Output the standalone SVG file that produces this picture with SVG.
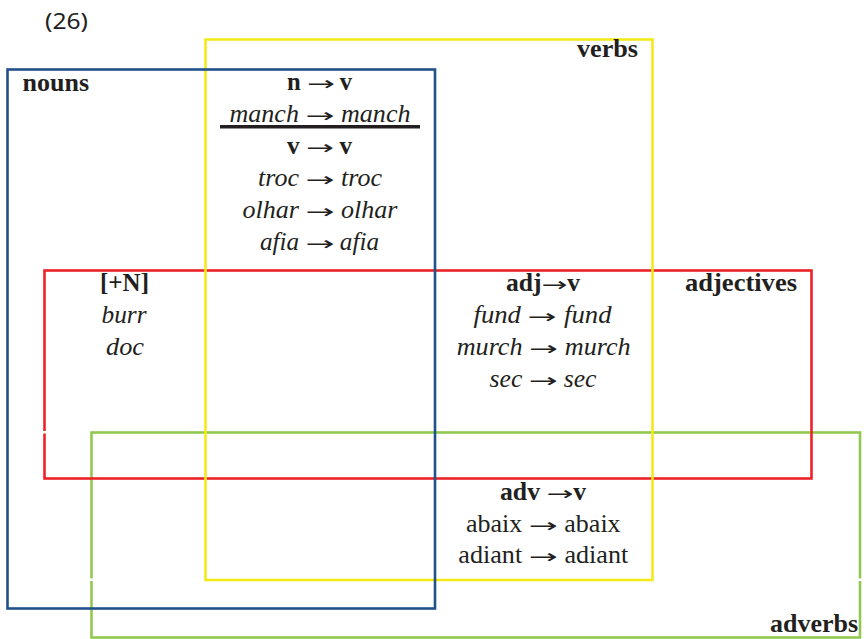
<svg xmlns="http://www.w3.org/2000/svg" width="866" height="639" viewBox="0 0 866 639">
<style>
.set{fill:none;stroke-width:2.6}
.t{font-family:"Liberation Serif","Times New Roman",serif;font-size:26px;fill:#231f20}
.b{font-weight:bold}
.i{font-style:italic}
.m{text-anchor:middle}
.e{text-anchor:end}
.a{font-family:"DejaVu Sans",sans-serif;font-weight:normal;font-style:normal;font-size:19px}
.gap{fill:#ffffff}
</style>
<rect width="866" height="639" fill="#ffffff"/>
<text x="45" y="28.5" font-family="Noto Sans, Open Sans, sans-serif" font-size="22" fill="#231f20" textLength="43" lengthAdjust="spacingAndGlyphs">(26)</text>

<g id="adverbs">
<rect class="set" x="91.5" y="432.5" width="768.5" height="205" stroke="#92c84f"/>
<rect class="gap" x="89" y="578.5" width="5" height="2.5"/>
<rect class="gap" x="857.5" y="578.5" width="5" height="2.5"/>
<text class="t b e" x="858" y="632" textLength="88" lengthAdjust="spacingAndGlyphs">adverbs</text>
</g>

<g id="adjectives">
<rect class="set" x="44.5" y="270.5" width="767" height="208" stroke="#ec2228"/>
<rect class="gap" x="42" y="431" width="5" height="2.5"/>
<text class="t b" x="685" y="291" textLength="112" lengthAdjust="spacingAndGlyphs">adjectives</text>
</g>

<g id="verbs">
<rect class="set" x="205.5" y="39.5" width="447" height="540.5" stroke="#f3ea1c"/>
<text class="t b e" x="638" y="57" textLength="61" lengthAdjust="spacingAndGlyphs">verbs</text>
</g>

<g id="nouns">
<rect class="set" x="7.5" y="69.5" width="427.5" height="539" stroke="#21508a"/>
<text class="t b" x="22.5" y="90.5" textLength="66.5" lengthAdjust="spacingAndGlyphs">nouns</text>
</g>

<g id="nouns-verbs">
<text class="t b m" x="319.5" y="90" textLength="65" lengthAdjust="spacingAndGlyphs">n <tspan class="a" textLength="28" lengthAdjust="spacingAndGlyphs">→</tspan> v</text>
<text class="t i m" x="320" y="121.5" textLength="181" lengthAdjust="spacingAndGlyphs">manch <tspan class="a" textLength="29" lengthAdjust="spacingAndGlyphs">→</tspan> manch</text>
<line x1="220" y1="126.8" x2="420" y2="126.8" stroke="#231f20" stroke-width="3.4"/>
<text class="t b m" x="319.5" y="154" textLength="65" lengthAdjust="spacingAndGlyphs">v <tspan class="a" textLength="28" lengthAdjust="spacingAndGlyphs">→</tspan> v</text>
<text class="t i m" x="320" y="186" textLength="124" lengthAdjust="spacingAndGlyphs">troc <tspan class="a" textLength="29" lengthAdjust="spacingAndGlyphs">→</tspan> troc</text>
<text class="t i m" x="320" y="217.5" textLength="155" lengthAdjust="spacingAndGlyphs">olhar <tspan class="a" textLength="29" lengthAdjust="spacingAndGlyphs">→</tspan> olhar</text>
<text class="t i m" x="319.5" y="249.5" textLength="119" lengthAdjust="spacingAndGlyphs">afia <tspan class="a" textLength="29" lengthAdjust="spacingAndGlyphs">→</tspan> afia</text>
</g>

<g id="nouns-adjectives">
<text class="t b m" x="124.5" y="291" textLength="49" lengthAdjust="spacingAndGlyphs">[+N]</text>
<text class="t i m" x="124" y="322.5" textLength="45" lengthAdjust="spacingAndGlyphs">burr</text>
<text class="t i m" x="125" y="354.5" textLength="38" lengthAdjust="spacingAndGlyphs">doc</text>
</g>

<g id="adjectives-verbs">
<text class="t b m" x="543" y="290.7" textLength="74" lengthAdjust="spacingAndGlyphs">adj<tspan class="a" textLength="26" lengthAdjust="spacingAndGlyphs">→</tspan>v</text>
<text class="t i m" x="542.5" y="323" textLength="138" lengthAdjust="spacingAndGlyphs">fund <tspan class="a" textLength="29" lengthAdjust="spacingAndGlyphs">→</tspan> fund</text>
<text class="t i m" x="543.7" y="355" textLength="174" lengthAdjust="spacingAndGlyphs">murch <tspan class="a" textLength="29" lengthAdjust="spacingAndGlyphs">→</tspan> murch</text>
<text class="t i m" x="543" y="386.7" textLength="107" lengthAdjust="spacingAndGlyphs">sec <tspan class="a" textLength="29" lengthAdjust="spacingAndGlyphs">→</tspan> sec</text>
</g>

<g id="adverbs-verbs">
<text class="t b m" x="543" y="500" textLength="86" lengthAdjust="spacingAndGlyphs">adv <tspan class="a" textLength="27" lengthAdjust="spacingAndGlyphs">→</tspan>v</text>
<text class="t m" x="543.3" y="531.7" textLength="154.7" lengthAdjust="spacingAndGlyphs">abaix <tspan class="a" textLength="29" lengthAdjust="spacingAndGlyphs">→</tspan> abaix</text>
<text class="t m" x="543.3" y="563.3" textLength="170" lengthAdjust="spacingAndGlyphs">adiant <tspan class="a" textLength="29" lengthAdjust="spacingAndGlyphs">→</tspan> adiant</text>
</g>
</svg>
